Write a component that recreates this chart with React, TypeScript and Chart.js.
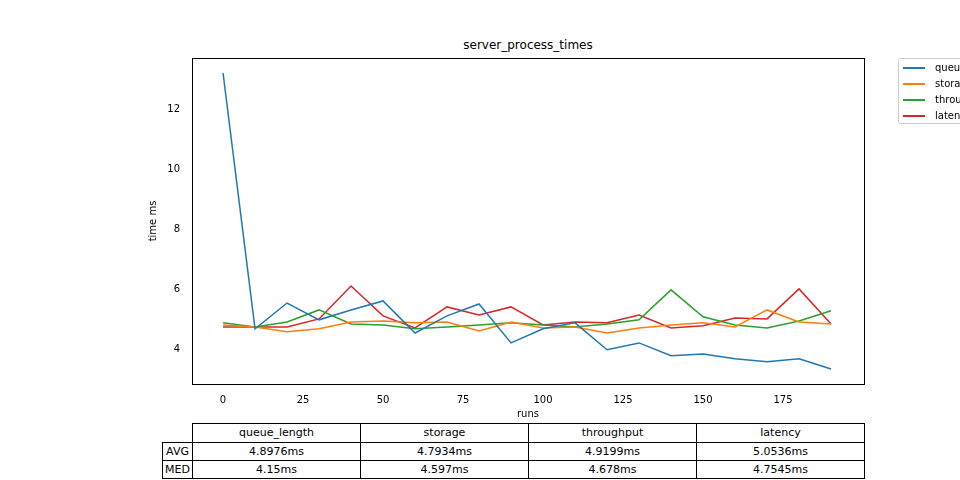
import { useEffect, useRef } from 'react';
import { Chart, registerables } from 'chart.js';

Chart.register(...registerables);

const runs = [0, 10, 20, 30, 40, 50, 60, 70, 80, 90, 100, 110, 120, 130, 140, 150, 160, 170, 180, 190];
const queueLength = [13.2, 4.67, 5.53, 4.97, 5.3, 5.6, 4.53, 5.1, 5.5, 4.2, 4.67, 4.87, 3.97, 4.2, 3.77, 3.83, 3.67, 3.57, 3.67, 3.33];
const storage = [4.8, 4.73, 4.57, 4.67, 4.9, 4.93, 4.87, 4.9, 4.6, 4.9, 4.7, 4.73, 4.53, 4.7, 4.8, 4.87, 4.73, 5.3, 4.9, 4.83];
const throughput = [4.87, 4.73, 4.9, 5.3, 4.83, 4.8, 4.67, 4.73, 4.8, 4.87, 4.8, 4.73, 4.83, 4.97, 5.97, 5.07, 4.8, 4.7, 4.93, 5.27];
const latency = [4.73, 4.73, 4.73, 5.0, 6.1, 5.1, 4.7, 5.4, 5.13, 5.4, 4.8, 4.9, 4.87, 5.13, 4.7, 4.77, 5.03, 5.0, 6.0, 4.83];

const seriesNames = ['queue_length', 'storage', 'throughput', 'latency'];
const seriesColors = ['#1f77b4', '#ff7f0e', '#2ca02c', '#d62728'];
const avgRow = ['4.8976ms', '4.7934ms', '4.9199ms', '5.0536ms'];
const medRow = ['4.15ms', '4.597ms', '4.678ms', '4.7545ms'];
const xTicks = [0, 25, 50, 75, 100, 125, 150, 175];

const font = 'DejaVu Sans, sans-serif';

export default function App() {
  const chartRef = useRef<HTMLCanvasElement>(null);
  const chartInstance = useRef<Chart | null>(null);

  useEffect(() => {
    if (!chartRef.current) return;
    if (chartInstance.current) chartInstance.current.destroy();
    const ctx = chartRef.current.getContext('2d');
    if (!ctx) return;

    const all = [queueLength, storage, throughput, latency];
    chartInstance.current = new Chart(ctx, {
      type: 'line',
      data: {
        datasets: all.map((vals, i) => ({
          label: seriesNames[i],
          data: vals.map((v, j) => ({ x: runs[j], y: v })),
          borderColor: seriesColors[i],
          backgroundColor: seriesColors[i],
          borderWidth: 1.5,
          pointRadius: 0,
          tension: 0,
        })),
      },
      options: {
        responsive: false,
        animation: false,
        layout: { padding: { left: 147, top: 58, right: 96, bottom: 0 } },
        plugins: { legend: { display: false }, tooltip: { enabled: false } },
        scales: {
          x: {
            type: 'linear',
            min: -9.7,
            max: 200.3,
            afterBuildTicks: (s: any) => { s.ticks = xTicks.map(v => ({ value: v })); },
            afterFit: (s: any) => { s.height = 36; },
            grid: { display: false, drawTicks: true },
            border: { color: '#000' },
            ticks: { color: '#000', font: { family: font, size: 10 }, padding: 2 },
            title: { display: true, text: 'runs', color: '#000', font: { family: font, size: 10 }, padding: 0 },
          },
          y: {
            min: 2.83,
            max: 13.7,
            afterBuildTicks: (s: any) => { s.ticks = [4, 6, 8, 10, 12].map(v => ({ value: v })); },
            afterFit: (s: any) => { s.width = 45; },
            grid: { display: false },
            border: { color: '#000' },
            ticks: { color: '#000', font: { family: font, size: 10 }, padding: 4 },
            title: { display: true, text: 'time ms', color: '#000', font: { family: font, size: 10 }, padding: 0 },
          },
        },
      },
      plugins: [{
        id: 'frame',
        afterDraw: (c: any) => {
          const a = c.chartArea;
          const g = c.ctx;
          g.save();
          g.strokeStyle = '#000';
          g.lineWidth = 1;
          g.strokeRect(a.left + 0.5, a.top + 0.5, a.right - a.left, a.bottom - a.top);
          g.restore();
        },
      }],
    });

    return () => {
      if (chartInstance.current) chartInstance.current.destroy();
    };
  }, []);

  const cell: React.CSSProperties = { border: '1px solid #000', textAlign: 'center', padding: 0, fontSize: 11, height: 17 };

  return (
    <div style={{ position: 'fixed', left: 0, top: 0, width: 960, height: 480, overflow: 'hidden', background: '#fff', fontFamily: font }}>
      <div style={{ position: 'absolute', top: 38, left: 192, width: 672, textAlign: 'center', fontSize: 12, color: '#000' }}>server_process_times</div>
      <canvas ref={chartRef} width={960} height={420} style={{ position: 'absolute', left: 0, top: 0 }} />
      <div style={{ position: 'absolute', left: 898, top: 58, width: 100, height: 64, border: '1px solid #ccc', borderRadius: 3, fontSize: 10 }}>
        {seriesNames.map((n, i) => (
          <div key={n} style={{ position: 'absolute', left: 4, top: 3 + i * 16, display: 'flex', alignItems: 'center', whiteSpace: 'nowrap' }}>
            <span style={{ display: 'inline-block', width: 22, height: 2, background: seriesColors[i], marginRight: 10 }} />
            <span>{n}</span>
          </div>
        ))}
      </div>
      <table style={{ position: 'absolute', left: 162, top: 423, borderCollapse: 'collapse', tableLayout: 'fixed', width: 703 }}>
        <colgroup>
          <col style={{ width: 30 }} />
          {seriesNames.map(n => <col key={n} style={{ width: 168 }} />)}
        </colgroup>
        <tbody>
          <tr>
            <td style={{ ...cell, border: 'none', height: 18 }} />
            {seriesNames.map(n => <td key={n} style={cell}>{n}</td>)}
          </tr>
          <tr>
            <td style={cell}>AVG</td>
            {avgRow.map((v, i) => <td key={i} style={cell}>{v}</td>)}
          </tr>
          <tr>
            <td style={cell}>MED</td>
            {medRow.map((v, i) => <td key={i} style={cell}>{v}</td>)}
          </tr>
        </tbody>
      </table>
    </div>
  );
}
